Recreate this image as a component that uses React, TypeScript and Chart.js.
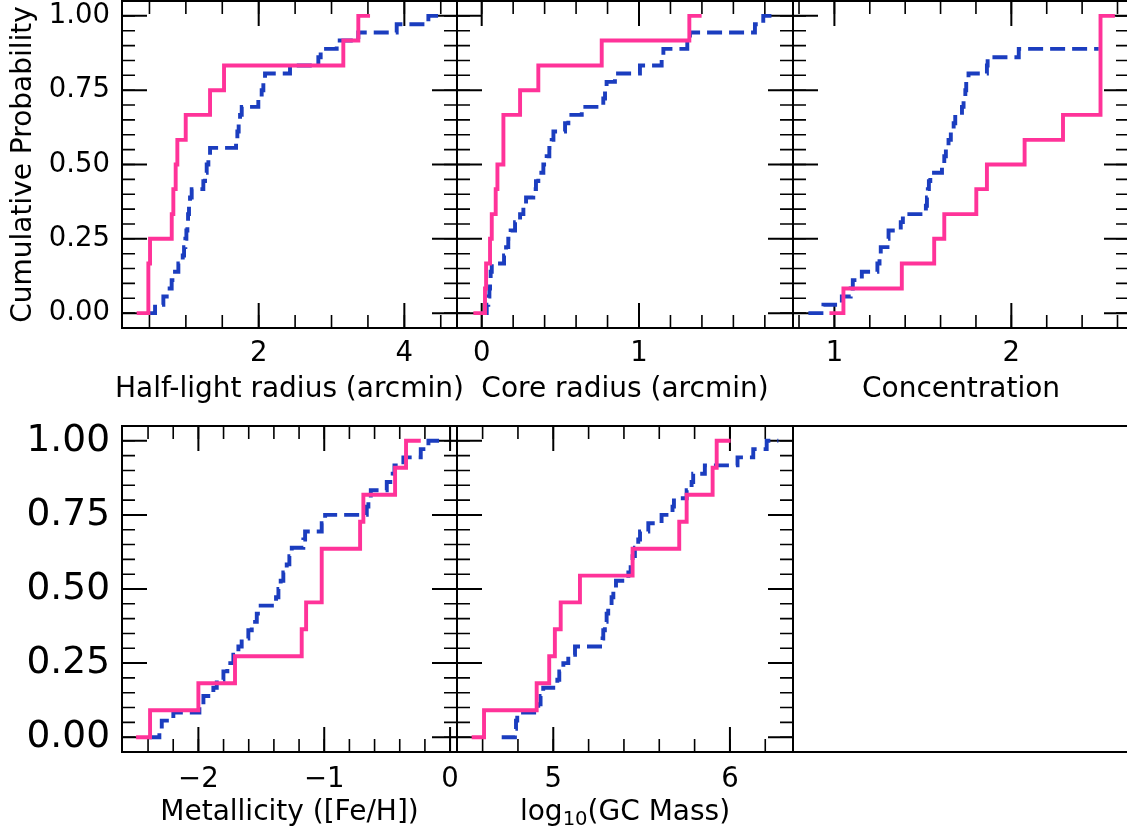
import React, { useEffect, useRef } from "react";
import { Chart, registerables } from "chart.js";

Chart.register(...registerables);

const PINK = "#ff3399";
const BLUE = "#1b3dbf";
const FONT = "'DejaVu Sans', 'Liberation Sans', sans-serif";
const TITLE_SIZE = 28;
const TICK_SIZE = 27.5;

// ---------- shared y axis ----------
const yTickValues = [0, 0.25, 0.5, 0.75, 1.0];
const yMinorStep = 0.05;
const yRange = [-0.05, 1.05];

// cumulative levels of the 36-object comparison sample (k/36)
const blueLevels = [
  0, 0.028, 0.056, 0.083, 0.111, 0.139, 0.167, 0.194, 0.222, 0.25, 0.278, 0.306,
  0.333, 0.361, 0.389, 0.417, 0.444, 0.472, 0.5, 0.528, 0.556, 0.583, 0.611,
  0.639, 0.667, 0.694, 0.722, 0.75, 0.778, 0.806, 0.833, 0.861, 0.889, 0.917,
  0.944, 0.972, 1.0,
];

// ---------- Panel 1: half-light radius ----------
const halfLightTicks = [2, 4];
const halfLightPinkX = [0.325, 0.485, 0.508, 0.806, 0.828, 0.86, 0.883, 0.998, 1.332, 1.524, 3.162, 3.368, 3.529];
const halfLightPinkY = [0, 0.167, 0.25, 0.333, 0.417, 0.5, 0.583, 0.667, 0.75, 0.833, 0.917, 1, 1];
const halfLightBlueX = [
  0.485, 0.577, 0.691, 0.737, 0.805, 0.851, 0.897, 0.957, 0.975, 0.993, 1.007, 1.021,
  1.03, 1.043, 1.057, 1.08, 1.24, 1.263, 1.286, 1.309, 1.332, 1.689, 1.707, 1.725,
  1.744, 1.767, 1.995, 2.041, 2.064, 2.087, 2.43, 2.819, 2.851, 3.071, 3.368, 3.895,
  4.33, 4.481,
];
const halfLightBlueY = [...blueLevels, 1];

// ---------- Panel 2: core radius ----------
const coreTicks = [0, 1];
const corePinkX = [-0.053, 0.021, 0.028, 0.053, 0.064, 0.089, 0.1, 0.138, 0.244, 0.36, 0.763, 1.32, 1.398];
const corePinkY = [0, 0.083, 0.167, 0.25, 0.333, 0.417, 0.5, 0.667, 0.75, 0.833, 0.917, 1, 1];
const coreBlueX = [
  0.0, 0.032, 0.042, 0.049, 0.053, 0.057, 0.064, 0.142, 0.155, 0.169, 0.184, 0.212,
  0.244, 0.265, 0.282, 0.328, 0.345, 0.36, 0.392, 0.413, 0.43, 0.445, 0.456, 0.53,
  0.551, 0.636, 0.773, 0.784, 0.794, 0.847, 1.006, 1.144, 1.155, 1.307, 1.324,
  1.737, 1.79, 1.854,
];
const coreBlueY = [...blueLevels, 1];

// ---------- Panel 3: concentration ----------
const concTicks = [1, 2];
const concPinkX = [0.972, 1.051, 1.381, 1.564, 1.621, 1.802, 1.862, 2.075, 2.292, 2.504, 2.585];
const concPinkY = [0, 0.083, 0.167, 0.25, 0.333, 0.417, 0.5, 0.583, 0.667, 1, 1];
const concBlueX = [
  0.853, 0.938, 1.042, 1.092, 1.104, 1.155, 1.243, 1.255, 1.262, 1.3, 1.306, 1.375,
  1.387, 1.517, 1.523, 1.528, 1.534, 1.542, 1.608, 1.621, 1.63, 1.645, 1.658, 1.674,
  1.683, 1.721, 1.73, 1.74, 1.745, 1.758, 1.862, 1.866, 2.042, 2.494,
];
const concBlueY = [...blueLevels.slice(0, 33), 0.889];

// ---------- Panel 4: metallicity ----------
const fehTicks = [-2, -1, 0];
const fehPinkX = [-2.495, -2.384, -2.0, -1.709, -1.179, -1.144, -1.02, -0.715, -0.689, -0.437, -0.35, -0.233];
const fehPinkY = [0, 0.091, 0.182, 0.273, 0.364, 0.455, 0.636, 0.727, 0.818, 0.909, 1, 1];
const fehBlueX = [
  -2.397, -2.31, -2.291, -2.199, -1.992, -1.96, -1.881, -1.854, -1.801, -1.77, -1.722,
  -1.682, -1.656, -1.603, -1.576, -1.536, -1.505, -1.383, -1.364, -1.346, -1.325,
  -1.298, -1.277, -1.258, -1.166, -1.152, -1.02, -0.993, -0.662, -0.649, -0.63,
  -0.503, -0.456, -0.442, -0.371, -0.233, -0.172, -0.053,
];
const fehBlueY = [...blueLevels, 1];

// ---------- Panel 5: log10 GC mass ----------
const massTicks = [5, 6];
const massPinkX = [4.538, 4.608, 4.906, 4.977, 5.009, 5.042, 5.151, 5.449, 5.713, 5.755, 5.902, 5.925, 6.004];
const massPinkY = [0, 0.091, 0.182, 0.273, 0.364, 0.455, 0.545, 0.636, 0.727, 0.818, 0.909, 1, 1];
const massBlueX = [
  4.708, 4.783, 4.789, 4.796, 4.915, 4.928, 4.943, 5.023, 5.034, 5.057, 5.085, 5.123,
  5.279, 5.283, 5.292, 5.302, 5.311, 5.33, 5.34, 5.355, 5.425, 5.438, 5.449, 5.462,
  5.481, 5.491, 5.538, 5.613, 5.675, 5.683, 5.755, 5.783, 5.792, 5.858, 6.043,
  6.132, 6.208, 6.274,
];
const massBlueY = [...blueLevels, 1];

// axis titles: pieces of text, with optional subscript pieces
type TitlePart = { t: string; sub?: boolean };
const halfLightTitle: TitlePart[] = [{ t: "Half-light radius (arcmin)" }];
const coreTitle: TitlePart[] = [{ t: "Core radius (arcmin)" }];
const concTitle: TitlePart[] = [{ t: "Concentration" }];
const fehTitle: TitlePart[] = [{ t: "Metallicity ([Fe/H])" }];
const massTitle: TitlePart[] = [{ t: "log" }, { t: "10", sub: true }, { t: "(GC Mass)" }];

type Series = { x: number[]; y: number[]; color: string; dash: number[] };
type PanelCfg = {
  left: number; top: number; width: number; height: number;
  pad: { left: number; top: number; right: number; bottom: number };
  yw: number; xh: number;
  xMin: number; xMax: number;
  xTicks: number[]; xMinorStep: number; xPad: number;
  yLabels: boolean; yFont: number;
  xTitle?: TitlePart[]; titleOffset: number; yTitle?: string;
  series: Series[];
  empty?: boolean;
};

function multiples(min: number, max: number, step: number): number[] {
  const out: number[] = [];
  const start = Math.ceil(min / step - 1e-9);
  for (let k = start; k * step <= max + 1e-9; k++) out.push(+(k * step).toFixed(6));
  return out;
}

function fmtX(v: number): string {
  if (v < 0) return "\u2212" + String(Math.abs(v));
  return String(v);
}

function makeFramePlugin(cfg: PanelCfg) {
  return {
    id: "frame",
    beforeDatasetsDraw(chart: any) {
      const { ctx, chartArea } = chart;
      const { left, right, top, bottom } = chartArea;
      ctx.save();
      ctx.strokeStyle = "#000";
      if (!cfg.empty) {
        const xs = chart.scales.x;
        const ys = chart.scales.y;
        const drawX = (vals: number[], len: number, w: number) => {
          ctx.lineWidth = w;
          ctx.beginPath();
          for (const v of vals) {
            const p = xs.getPixelForValue(v);
            if (p < left + 1 || p > right - 1) continue;
            ctx.moveTo(p, bottom);
            ctx.lineTo(p, bottom - len);
            ctx.moveTo(p, top);
            ctx.lineTo(p, top + len);
          }
          ctx.stroke();
        };
        const drawY = (vals: number[], len: number, w: number) => {
          ctx.lineWidth = w;
          ctx.beginPath();
          for (const v of vals) {
            const p = ys.getPixelForValue(v);
            if (p < top + 1 || p > bottom - 1) continue;
            ctx.moveTo(left, p);
            ctx.lineTo(left + len, p);
            ctx.moveTo(right, p);
            ctx.lineTo(right - len, p);
          }
          ctx.stroke();
        };
        drawX(multiples(cfg.xMin, cfg.xMax, cfg.xMinorStep), 13, 1.6);
        drawY(multiples(yRange[0], yRange[1], yMinorStep), 13, 1.6);
        drawX(cfg.xTicks, 25, 2);
        drawY(yTickValues, 25, 2);
      }
      ctx.lineWidth = 2;
      ctx.strokeRect(left, top, right - left, bottom - top);
      ctx.restore();
    },
    afterDraw(chart: any) {
      if (!cfg.xTitle) return;
      const { ctx, chartArea } = chart;
      const cx = (chartArea.left + chartArea.right) / 2;
      const y = chartArea.bottom + cfg.titleOffset;
      const subSize = TITLE_SIZE * 0.7;
      ctx.save();
      ctx.fillStyle = "#000";
      ctx.textBaseline = "middle";
      ctx.textAlign = "left";
      const widths = cfg.xTitle.map((p) => {
        ctx.font = `${p.sub ? subSize : TITLE_SIZE}px ${FONT}`;
        return ctx.measureText(p.t).width;
      });
      const total = widths.reduce((a, b) => a + b, 0);
      let x = cx - total / 2;
      cfg.xTitle.forEach((p, i) => {
        ctx.font = `${p.sub ? subSize : TITLE_SIZE}px ${FONT}`;
        ctx.fillText(p.t, x, p.sub ? y + 7 : y);
        x += widths[i];
      });
      ctx.restore();
    },
  };
}

function zeroPad(s: any) {
  s.paddingLeft = 0;
  s.paddingRight = 0;
  s.paddingTop = 0;
  s.paddingBottom = 0;
}

function Panel({ cfg }: { cfg: PanelCfg }) {
  const ref = useRef<HTMLCanvasElement>(null);
  useEffect(() => {
    if (!ref.current) return;
    const datasets = cfg.series.map((s) => ({
      data: s.x.map((x, i) => ({ x, y: s.y[i] })),
      borderColor: s.color,
      backgroundColor: s.color,
      borderWidth: 3.9,
      borderDash: s.dash,
      borderCapStyle: "butt" as const,
      borderJoinStyle: "miter" as const,
      stepped: "before" as const,
      pointRadius: 0,
      fill: false,
      tension: 0,
    }));
    const chart = new Chart(ref.current, {
      type: "line",
      data: { datasets },
      options: {
        responsive: false,
        animation: false,
        events: [],
        layout: { padding: cfg.pad },
        plugins: { legend: { display: false }, tooltip: { enabled: false }, title: { display: false } },
        scales: {
          x: {
            type: "linear",
            display: !cfg.empty,
            min: cfg.xMin,
            max: cfg.xMax,
            bounds: "data",
            grid: { display: false, drawTicks: false, tickLength: 0 },
            border: { display: false },
            afterBuildTicks: (s: any) => {
              s.ticks = cfg.xTicks.map((v) => ({ value: v }));
            },
            afterFit: (s: any) => {
              s.height = cfg.xh;
              zeroPad(s);
            },
            ticks: {
              autoSkip: false,
              maxRotation: 0,
              minRotation: 0,
              padding: cfg.xPad,
              color: "#000",
              font: { family: FONT, size: TICK_SIZE },
              callback: (v: any) => fmtX(Number(v)),
            },
            title: { display: false },
          },
          y: {
            type: "linear",
            display: !cfg.empty,
            min: yRange[0],
            max: yRange[1],
            bounds: "data",
            grid: { display: false, drawTicks: false, tickLength: 0 },
            border: { display: false },
            afterBuildTicks: (s: any) => {
              s.ticks = yTickValues.map((v) => ({ value: v }));
            },
            afterFit: (s: any) => {
              s.width = cfg.yw;
              zeroPad(s);
            },
            ticks: {
              display: cfg.yLabels,
              autoSkip: false,
              padding: 12,
              color: "#000",
              font: { family: FONT, size: cfg.yFont },
              callback: (v: any) => Number(v).toFixed(2),
            },
            title: {
              display: !!cfg.yTitle,
              text: cfg.yTitle || "",
              color: "#000",
              padding: 0,
              font: { family: FONT, size: TITLE_SIZE },
            },
          },
        },
      } as any,
      plugins: [makeFramePlugin(cfg)],
    });
    return () => chart.destroy();
  }, [cfg]);
  return (
    <canvas
      ref={ref}
      width={cfg.width}
      height={cfg.height}
      style={{ position: "absolute", left: cfg.left, top: cfg.top, width: cfg.width, height: cfg.height }}
    />
  );
}

const pinkStyle = { color: PINK, dash: [] as number[] };
const blueStyle = { color: BLUE, dash: [15, 7] };

const panels: PanelCfg[] = [
  {
    left: 7, top: 0, width: 470, height: 407,
    pad: { left: 0, top: 1, right: 20, bottom: 0 }, yw: 115, xh: 79,
    xMin: 0.123, xMax: 4.723, xTicks: halfLightTicks, xMinorStep: 0.5, xPad: 9,
    yLabels: true, yFont: TICK_SIZE,
    xTitle: halfLightTitle, titleOffset: 62, yTitle: "Cumulative Probability",
    series: [
      { x: halfLightPinkX, y: halfLightPinkY, ...pinkStyle },
      { x: halfLightBlueX, y: halfLightBlueY, ...blueStyle },
    ],
  },
  {
    left: 437, top: 0, width: 376, height: 407,
    pad: { left: 0, top: 1, right: 20, bottom: 0 }, yw: 20, xh: 79,
    xMin: -0.157, xMax: 1.979, xTicks: coreTicks, xMinorStep: 0.2, xPad: 9,
    yLabels: false, yFont: TICK_SIZE,
    xTitle: coreTitle, titleOffset: 62,
    series: [
      { x: corePinkX, y: corePinkY, ...pinkStyle },
      { x: coreBlueX, y: coreBlueY, ...blueStyle },
    ],
  },
  {
    left: 773, top: 0, width: 376, height: 407,
    pad: { left: 0, top: 1, right: 20, bottom: 0 }, yw: 20, xh: 79,
    xMin: 0.766, xMax: 2.665, xTicks: concTicks, xMinorStep: 0.2, xPad: 9,
    yLabels: false, yFont: TICK_SIZE,
    xTitle: concTitle, titleOffset: 62,
    series: [
      { x: concPinkX, y: concPinkY, ...pinkStyle },
      { x: concBlueX, y: concBlueY, ...blueStyle },
    ],
  },
  {
    left: 0, top: 406, width: 477, height: 424,
    pad: { left: 0, top: 20, right: 20, bottom: 0 }, yw: 122, xh: 78,
    xMin: -2.607, xMax: 0.055, xTicks: fehTicks, xMinorStep: 0.2, xPad: 11,
    yLabels: true, yFont: 37.5,
    xTitle: fehTitle, titleOffset: 61,
    series: [
      { x: fehPinkX, y: fehPinkY, ...pinkStyle },
      { x: fehBlueX, y: fehBlueY, ...blueStyle },
    ],
  },
  {
    left: 437, top: 406, width: 376, height: 424,
    pad: { left: 0, top: 20, right: 20, bottom: 0 }, yw: 20, xh: 78,
    xMin: 4.455, xMax: 6.357, xTicks: massTicks, xMinorStep: 0.2, xPad: 11,
    yLabels: false, yFont: TICK_SIZE,
    xTitle: massTitle, titleOffset: 61,
    series: [
      { x: massPinkX, y: massPinkY, ...pinkStyle },
      { x: massBlueX, y: massBlueY, ...blueStyle },
    ],
  },
  {
    left: 773, top: 406, width: 376, height: 424,
    pad: { left: 20, top: 20, right: 20, bottom: 78 }, yw: 0, xh: 0,
    xMin: 0, xMax: 1, xTicks: [], xMinorStep: 0.2, xPad: 0,
    yLabels: false, yFont: TICK_SIZE, titleOffset: 0,
    series: [],
    empty: true,
  },
];

export default function App() {
  return (
    <div
      style={{
        position: "absolute",
        left: 0,
        top: 0,
        width: 1127,
        height: 833,
        overflow: "hidden",
        background: "#fff",
      }}
    >
      {panels.map((p, i) => (
        <Panel key={i} cfg={p} />
      ))}
    </div>
  );
}
